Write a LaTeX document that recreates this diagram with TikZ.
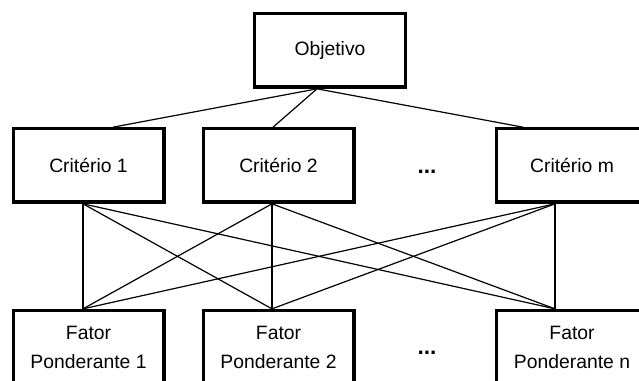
\documentclass[tikz,border=0pt]{standalone}
\usepackage{fontspec}
\setmainfont{Liberation Sans}
\usetikzlibrary{positioning}
\tikzset{box/.style={rectangle,draw=black,fill=white,line width=2.5pt,minimum width=113pt,minimum height=55pt,align=center,font=\fontsize{14.5pt}{21.75pt}\selectfont}}
\tikzset{link/.style={draw=black,line width=0.9pt}}
\tikzset{dots/.style={inner sep=0pt,font=\fontsize{17pt}{20pt}\selectfont\bfseries}}

\begin{document}
\begin{tikzpicture}[x=0.75pt,y=-0.75pt,node distance=78.75pt]
  \useasboundingbox (0,0) rectangle (639,381);

  \node [box] (O) at (330,50.5) {Objetivo};
  \node [box] (C1) at (88.5,165.5) {Critério 1};
  \node [box] (C2) at (278.5,165.5) {Critério 2};
  \node [box] (Cm) at (572,165.5) {Critério m};
  \node [dots] (D1) at (427,172) {...};

  \node [box,below=of C1] (F1) {Fator\\Ponderante 1};
  \node [box,below=of C2] (F2) {Fator\\Ponderante 2};
  \node [box,below=of Cm] (Fn) {Fator\\Ponderante n};
  \node [dots] (D2) at (427,353) {...};

  % points where the lines meet the boxes
  \coordinate (o) at ([xshift=-9.75pt]O.south);
  \coordinate (c1n) at ([xshift=18.4pt]C1.north);
  \coordinate (c2n) at ([xshift=-4.1pt]C2.north);
  \coordinate (cmn) at ([xshift=-36.75pt]Cm.north);
  \coordinate (c1s) at ([xshift=-4.1pt]C1.south);
  \coordinate (c2s) at ([xshift=-4.9pt]C2.south);
  \coordinate (cms) at ([xshift=-12.75pt]Cm.south);
  \coordinate (f1n) at ([xshift=-4.1pt]F1.north);
  \coordinate (f2n) at ([xshift=-4.9pt]F2.north);
  \coordinate (fnn) at ([xshift=-12.75pt]Fn.north);

  \path [link] (o) edge (c1n)
                   edge (c2n)
                   edge (cmn);
  \path [link] (c1s) edge (f1n)
                     edge (f2n)
                     edge (fnn);
  \path [link] (c2s) edge (f1n)
                     edge (f2n)
                     edge (fnn);
  \path [link] (cms) edge (f1n)
                     edge (f2n)
                     edge (fnn);
\end{tikzpicture}
\end{document}
